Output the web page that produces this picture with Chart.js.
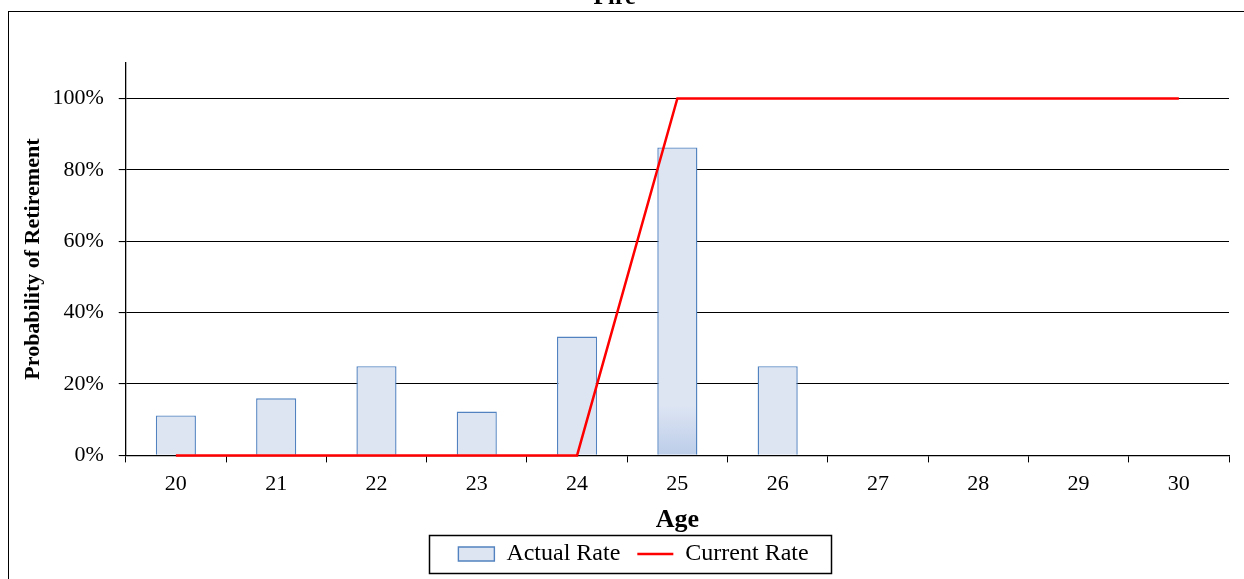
<!DOCTYPE html>
<html>
<head>
<meta charset="utf-8">
<script src="https://cdn.jsdelivr.net/npm/chart.js@4/dist/chart.umd.min.js"></script>
<style>
  html, body { margin: 0; padding: 0; background: #fff; overflow: hidden; }
  body { width: 1244px; height: 579px; position: relative; }
  #wrap { position: absolute; left: 0; top: -30px; width: 1244px; height: 609px; }
  #frame { position: absolute; left: 8px; top: 11px; width: 1300px; height: 700px;
           border: 1.5px solid #000; box-sizing: border-box; pointer-events: none; }
</style>
</head>
<body>
<div id="wrap"><canvas id="chart"></canvas></div>
<div id="frame"></div>
<script>
// Retirement probabilities by age (percent)
const ages = ['20', '21', '22', '23', '24', '25', '26', '27', '28', '29', '30'];
const actualRate = [11.2, 16, 25, 12.3, 33.3, 86.3, 25, 0, 0, 0, 0];
const currentRate = [0, 0, 0, 0, 0, 100, 100, 100, 100, 100, 100];
const yTickValues = [0, 20, 40, 60, 80, 100];

const SERIF = '"Liberation Serif", "Times New Roman", Times, serif';
const BAR_FILL = '#DDE5F3';
const BAR_EDGE = '#5283C0';

// Nudges the legend row to the right of the canvas centre
const legendShift = {
  id: 'legendShift',
  afterLayout(chart) {
    const lg = chart.legend;
    if (!lg) return;
    lg.left += 19;
    lg.right += 19;
  }
};

// Draws the box around the legend entries
const legendBox = {
  id: 'legendBox',
  afterDraw(chart) {
    const lg = chart.legend;
    if (!lg || !lg.legendHitBoxes || !lg.legendHitBoxes.length) return;
    const boxes = lg.legendHitBoxes;
    const left = Math.min(...boxes.map(b => b.left)) - 29;
    const right = Math.max(...boxes.map(b => b.left + b.width)) + 23;
    const midY = boxes[0].top + boxes[0].height / 2;
    const c = chart.ctx;
    c.save();
    c.strokeStyle = '#000';
    c.lineWidth = 1.5;
    c.strokeRect(Math.round(left) + 0.5, Math.round(midY - 19) + 0.5, Math.round(right - left), 38);
    c.restore();
  }
};

new Chart(document.getElementById('chart'), {
  data: {
    labels: ages,
    datasets: [
      {
        type: 'bar',
        label: 'Actual Rate',
        data: actualRate,
        order: 2,
        backgroundColor: (ctx) => {
          const ch = ctx.chart;
          if (ctx.dataIndex !== 5 || !ch.chartArea) return BAR_FILL;
          const y0 = ch.scales.y.getPixelForValue(0);
          const g = ch.ctx.createLinearGradient(0, y0 - 50, 0, y0);
          g.addColorStop(0, BAR_FILL);
          g.addColorStop(1, '#BCCDE9');
          return g;
        },
        borderColor: BAR_EDGE,
        borderWidth: 1.4,
        barPercentage: 0.4,
        categoryPercentage: 1.0,
        pointStyle: 'rect'
      },
      {
        type: 'line',
        label: 'Current Rate',
        data: currentRate,
        order: 1,
        borderColor: '#FF0000',
        backgroundColor: '#FF0000',
        borderWidth: 2.5,
        pointRadius: 0,
        tension: 0,
        fill: false,
        clip: 4,
        pointStyle: 'line'
      }
    ]
  },
  options: {
    responsive: true,
    maintainAspectRatio: false,
    animation: false,
    events: [],
    layout: { padding: { left: 0, right: 15, top: 0, bottom: 3 } },
    plugins: {
      title: {
        display: true,
        text: 'Fire',
        color: '#000',
        font: { family: SERIF, size: 24, weight: 'bold' },
        padding: { top: 13, bottom: 51 }
      },
      legend: {
        display: true,
        position: 'bottom',
        labels: {
          color: '#000',
          font: { family: SERIF, size: 24 },
          usePointStyle: true,
          pointStyleWidth: 36,
          boxHeight: 14,
          padding: 17,
          sort: (a, b) => a.datasetIndex - b.datasetIndex
        }
      },
      tooltip: { enabled: false }
    },
    scales: {
      x: {
        type: 'category',
        offset: true,
        grid: {
          offset: true,
          drawOnChartArea: false,
          drawTicks: true,
          tickLength: 7,
          color: '#000',
          lineWidth: 1
        },
        border: { display: true, color: '#000', width: 1.3 },
        ticks: {
          color: '#000',
          font: { family: SERIF, size: 22 },
          padding: 9,
          maxRotation: 0
        },
        title: {
          display: true,
          text: 'Age',
          color: '#000',
          font: { family: SERIF, size: 26, weight: 'bold' },
          padding: { top: -2, bottom: -11 }
        }
      },
      y: {
        type: 'linear',
        min: 0,
        max: 110,
        afterBuildTicks: (scale) => {
          scale.ticks = yTickValues.map(v => ({ value: v }));
        },
        grid: {
          drawOnChartArea: true,
          drawTicks: true,
          tickLength: 7,
          color: '#000',
          lineWidth: 1.1
        },
        border: { display: true, color: '#000', width: 1.3 },
        ticks: {
          color: '#000',
          font: { family: SERIF, size: 22 },
          padding: 15,
          callback: (v) => v + '%'
        },
        title: {
          display: true,
          text: 'Probability of Retirement',
          color: '#000',
          font: { family: SERIF, size: 22, weight: 'bold' },
          padding: { top: 20, bottom: -9 }
        }
      }
    }
  },
  plugins: [legendShift, legendBox]
});
</script>
</body>
</html>
